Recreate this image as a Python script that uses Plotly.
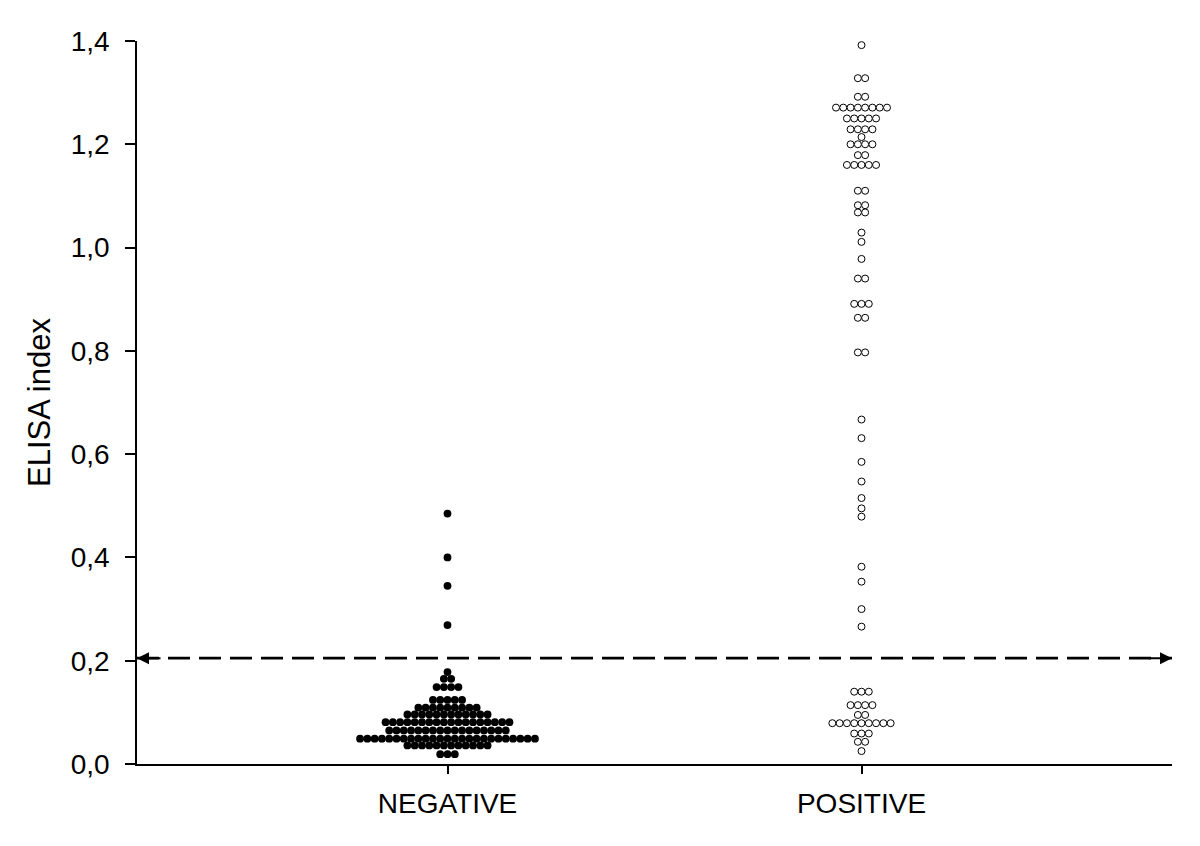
import plotly.graph_objects as go

# ELISA index readings, read off the figure as rows of the dot plot
# (value of the row, number of dots sitting in that row)
neg_levels = [0.485, 0.400, 0.345, 0.269, 0.178, 0.165, 0.149, 0.124, 0.109,
              0.096, 0.081, 0.065, 0.049, 0.036, 0.019]
neg_counts = [1, 1, 1, 1, 1, 2, 4, 5, 9, 12, 18, 17, 25, 12, 3]

pos_levels = [1.392, 1.328, 1.292, 1.271, 1.250, 1.229, 1.214, 1.200, 1.179,
              1.160, 1.110, 1.082, 1.068, 1.029, 1.011, 0.978, 0.940, 0.891,
              0.864, 0.797, 0.667, 0.631, 0.585, 0.547, 0.515, 0.495, 0.479,
              0.382, 0.353, 0.300, 0.266, 0.140, 0.114, 0.095, 0.079, 0.059,
              0.043, 0.025]
pos_counts = [1, 2, 2, 8, 5, 4, 1, 4, 2, 5, 2, 2, 2, 1, 1, 1, 2, 3, 2, 2,
              1, 1, 1, 1, 1, 1, 1, 1, 1, 1, 1, 3, 4, 2, 9, 3, 2, 1]

categories = ["NEGATIVE", "POSITIVE"]
cutoff = 0.205

step = 0.0176  # horizontal spacing between neighbouring dots


def spread(center, levels, counts):
    xs, ys = [], []
    for v, n in zip(levels, counts):
        for i in range(n):
            xs.append(center + (i - (n - 1) / 2) * step)
            ys.append(v)
    return xs, ys


nx, ny = spread(0, neg_levels, neg_counts)
px_, py = spread(1, pos_levels, pos_counts)

font = "Arial, Liberation Sans, sans-serif"

fig = go.Figure()

# cut-off line
fig.add_trace(go.Scatter(
    x=[-0.75, 1.75], y=[cutoff, cutoff], mode="lines",
    line=dict(color="black", width=2.8, dash="22px,9px"),
    hoverinfo="skip", showlegend=False))

fig.add_trace(go.Scatter(
    x=nx, y=ny, mode="markers", name=categories[0],
    marker=dict(size=7.8, color="black", line=dict(width=0)),
    showlegend=False))

fig.add_trace(go.Scatter(
    x=px_, y=py, mode="markers", name=categories[1],
    marker=dict(size=7, color="white", line=dict(width=1, color="black")),
    showlegend=False))

# arrow heads at both ends of the cut-off line
for xe, off in [(-0.75, 25), (1.75, -25)]:
    fig.add_annotation(x=xe, y=cutoff, ax=off, ay=0, text="",
                       showarrow=True, arrowhead=2, arrowsize=1.2,
                       arrowwidth=2, arrowcolor="black")

fig.update_xaxes(
    range=[-0.75, 1.75], tickvals=[0, 1], ticktext=categories,
    showline=True, linecolor="black", linewidth=1.5,
    ticks="outside", ticklen=8, tickwidth=1.5, tickcolor="black",
    ticklabelstandoff=6,
    showgrid=False, zeroline=False,
    tickfont=dict(family=font, size=28, color="black"))

fig.update_yaxes(
    range=[0, 1.4], dtick=0.2, tickformat=".1f",
    showline=True, linecolor="black", linewidth=1.5,
    ticks="outside", ticklen=10, tickwidth=1.5, tickcolor="black",
    ticklabelstandoff=10,
    showgrid=False, zeroline=False,
    tickfont=dict(family=font, size=28, color="black"),
    title=dict(text="ELISA index", font=dict(family=font, size=31, color="black"),
               standoff=11))

# page body adds an 8px offset, so the margins are shifted to compensate
fig.update_layout(
    width=1200, height=846,
    separators=",.",
    plot_bgcolor="white", paper_bgcolor="white",
    margin=dict(l=129, r=36, t=33, b=90),
)

fig.write_html("out.html")
